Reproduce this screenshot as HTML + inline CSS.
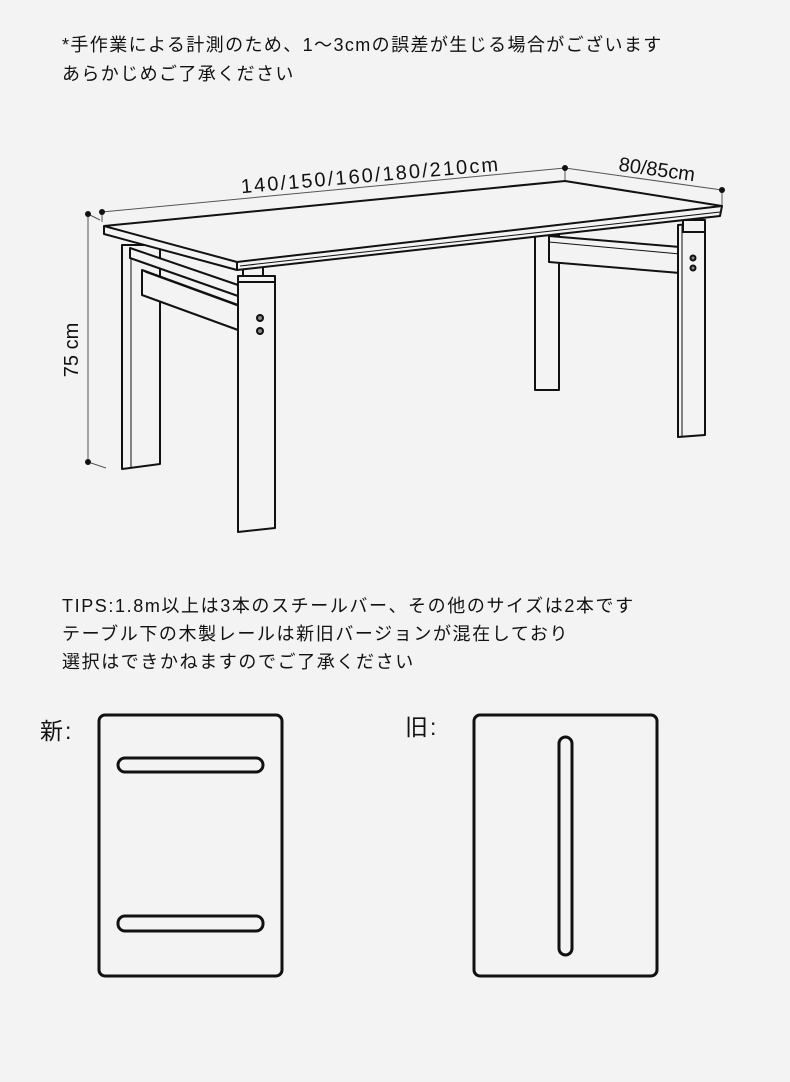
<!DOCTYPE html>
<html><head><meta charset="utf-8"><style>
html,body{margin:0;padding:0;background:#f3f3f3;}
body{width:790px;height:1082px;position:relative;overflow:hidden;font-family:"Liberation Sans","Noto Sans CJK JP",sans-serif;color:#111;}
.t{position:absolute;font-size:18px;white-space:nowrap;line-height:20px;letter-spacing:1.4px;}
</style></head><body>
<div class="t" style="left:62px;top:35px;">*手作業による計測のため、1～3cmの誤差が生じる場合がございます</div>
<div class="t" style="left:62px;top:64px;">あらかじめご了承ください</div>
<div class="t" style="left:62px;top:596px;letter-spacing:1.6px;">TIPS:1.8m以上は3本のスチールバー、その他のサイズは2本です</div>
<div class="t" style="left:62px;top:624px;letter-spacing:1.6px;">テーブル下の木製レールは新旧バージョンが混在しており</div>
<div class="t" style="left:62px;top:652px;letter-spacing:1.6px;">選択はできかねますのでご了承ください</div>
<div class="t" style="left:40px;top:718px;font-size:23px;line-height:26px;letter-spacing:2px;">新:</div>
<div class="t" style="left:405px;top:714px;font-size:23px;line-height:26px;letter-spacing:2px;">旧:</div>
<svg width="790" height="1082" style="position:absolute;left:0;top:0" xmlns="http://www.w3.org/2000/svg">
<g fill="none" stroke="#111" stroke-width="2" stroke-linejoin="round">
<g stroke="#555" stroke-width="1">
<line x1="102" y1="212" x2="565" y2="168"/>
<line x1="565" y1="168" x2="722" y2="190"/>
<line x1="102" y1="212" x2="102" y2="222"/>
<line x1="565" y1="168" x2="565" y2="180"/>
<line x1="722" y1="190" x2="722" y2="205"/>
<line x1="88" y1="214" x2="88" y2="462"/>
<line x1="88" y1="214" x2="100" y2="220"/>
<line x1="88" y1="462" x2="106" y2="468"/>
</g>
<g fill="#111" stroke="none">
<circle cx="102" cy="212" r="3"/><circle cx="565" cy="168" r="3"/><circle cx="722" cy="190" r="3"/>
<circle cx="88" cy="214" r="3"/><circle cx="88" cy="462" r="3"/>
</g>
<rect x="535" y="235" width="24" height="155" fill="#f3f3f3"/>
<polygon points="549,236 680,247 680,273 549,262" fill="#f3f3f3"/>
<line x1="549" y1="242" x2="680" y2="254" stroke-width="1"/>
<polygon points="678,225 705,223 705,435 678,437" fill="#f3f3f3"/>
<line x1="682" y1="226" x2="682" y2="436" stroke-width="1"/>
<polygon points="683,220 705,220 705,232 683,232" fill="#f3f3f3"/>
<circle cx="693" cy="258" r="2.5" fill="#888"/><circle cx="693" cy="268" r="2.5" fill="#888"/>
<polygon points="122,245 160,245 160,464 122,469" fill="#f3f3f3"/>
<line x1="131" y1="248" x2="131" y2="467" stroke-width="1"/>
<polygon points="142,270 238,305 238,330 142,295" fill="#f3f3f3"/>
<line x1="145" y1="272" x2="238" y2="306" stroke-width="1"/>
<polygon points="130,248 238,285 238,296 130,258" fill="#f3f3f3"/>
<polygon points="238,282 275,282 275,528 238,532" fill="#f3f3f3"/>
<polygon points="238,282 275,282 275,276 238,276" fill="#f3f3f3"/>
<circle cx="260" cy="318" r="3" fill="#888"/><circle cx="260" cy="331" r="3" fill="#888"/>
<rect x="243" y="266" width="20" height="10" fill="#f3f3f3"/>
<polygon points="104,226 565,181 722,206 720,216 237,270 104,234" fill="#f3f3f3"/>
<polyline points="104,226 237,262 722,206" />
<line x1="237" y1="262" x2="237" y2="270"/>
<line x1="240" y1="266" x2="720" y2="212" stroke-width="1"/>
<rect x="99" y="715" width="183" height="261" rx="6" stroke-width="3"/>
<rect x="118" y="758" width="145" height="14" rx="7" stroke-width="3"/>
<rect x="118" y="916" width="145" height="15" rx="7" stroke-width="3"/>
<rect x="474" y="715" width="183" height="261" rx="6" stroke-width="3"/>
<rect x="559" y="737" width="13" height="218" rx="6.5" stroke-width="3"/>
</g>
<g font-family="Liberation Sans, sans-serif" font-size="20" fill="#111">
<text x="370" y="182" text-anchor="middle" transform="rotate(-5 370 182)" textLength="258">140/150/160/180/210cm</text>
<text x="656" y="176" text-anchor="middle" transform="rotate(8 656 176)">80/85cm</text>
<text x="78" y="350" text-anchor="middle" transform="rotate(-90 78 350)">75 cm</text>
</g>
</svg>
</body></html>
